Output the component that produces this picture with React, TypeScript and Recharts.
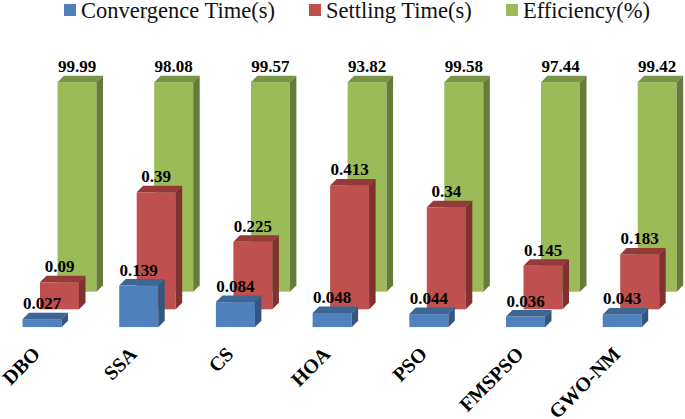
import React from 'react';
import { BarChart, Bar, XAxis, YAxis, Legend } from 'recharts';

const categories = ['DBO', 'SSA', 'CS', 'HOA', 'PSO', 'FMSPSO', 'GWO-NM'];
const convergenceTime = [0.027, 0.139, 0.084, 0.048, 0.044, 0.036, 0.043];
const settlingTime = [0.09, 0.39, 0.225, 0.413, 0.34, 0.145, 0.183];
const efficiency = [99.99, 98.08, 99.57, 93.82, 99.58, 97.44, 99.42];

const seriesNames = ['Convergence Time(s)', 'Settling Time(s)', 'Efficiency(%)'];
const seriesKeys = ['convergence', 'settling', 'efficiency'];

const rows = categories.map((name, i) => ({
  name,
  convergence: convergenceTime[i],
  settling: settlingTime[i],
  efficiency: efficiency[i],
}));

const SERIF = '"Liberation Serif", "Times New Roman", serif';
const styles = [
  { front: '#4F81BD', top: '#3D6695', side: '#34577F', dx: -6.5, dy: 0 },
  { front: '#C0504D', top: '#953A38', side: '#7F3230', dx: 11, dy: -18 },
  { front: '#9BBB59', top: '#7A9447', side: '#657B3A', dx: 28.5, dy: -35.6 },
];
const CAP_PX = 209.5;
const DEPTH = 6.5;

function makeShape(seriesIndex: number) {
  const st = styles[seriesIndex];
  const key = seriesKeys[seriesIndex];
  return function Shape3D(props: any) {
    const { x, y, width, height, payload } = props;
    const base = y + height + st.dy;
    const top = Math.max(y + st.dy, base - CAP_PX);
    const l = x + st.dx;
    const r = l + width;
    return (
      <g>
        <rect x={l} y={top} width={width} height={base - top} fill={st.front} />
        <polygon
          points={`${l},${top} ${l + DEPTH},${top - DEPTH} ${r + DEPTH},${top - DEPTH} ${r},${top}`}
          fill={st.top}
        />
        <polygon
          points={`${r},${top} ${r + DEPTH},${top - DEPTH} ${r + DEPTH},${base - DEPTH} ${r},${base}`}
          fill={st.side}
        />
        <text
          x={l + width / 2}
          y={top - 10}
          textAnchor="middle"
          fontFamily={SERIF}
          fontWeight={700}
          fontSize={17}
          fill="#000"
        >
          {payload[key]}
        </text>
      </g>
    );
  };
}

function AngledTick(props: any) {
  const { x, y, payload } = props;
  const px = x - 7;
  const py = y + 6;
  return (
    <text
      x={px}
      y={py}
      textAnchor="end"
      transform={`rotate(-45 ${px} ${py})`}
      fontFamily={SERIF}
      fontWeight={700}
      fontSize={20}
      fill="#000"
    >
      {payload.value}
    </text>
  );
}

function LegendContent() {
  return (
    <div style={{ position: 'absolute', left: 0, top: 0, height: 0, width: 685 }}>
      {seriesNames.map((n, i) => (
        <div key={n} style={{ position: 'absolute', left: [64, 309, 506][i], top: -27.3 }}>
          <span
            style={{
              position: 'absolute',
              left: 0,
              top: 4,
              width: 12,
              height: 11.5,
              background: styles[i].front,
            }}
          />
          <span
            style={{
              position: 'absolute',
              left: 17,
              top: 0,
              fontFamily: SERIF,
              fontSize: 22.5,
              lineHeight: '22px',
              whiteSpace: 'nowrap',
              color: '#111',
            }}
          >
            {n}
          </span>
        </div>
      ))}
    </div>
  );
}

export default function App() {
  return (
    <div style={{ position: 'absolute', left: 0, top: 0, width: 685, height: 419, background: '#fff' }}>
      <BarChart
        width={685}
        height={419}
        data={rows}
        margin={{ top: 27.3, right: 8.1, left: 0, bottom: 31.7 }}
        barSize={39}
        barGap={-39}
      >
        <Legend verticalAlign="top" content={<LegendContent />} />
        <XAxis
          dataKey="name"
          height={60}
          axisLine={false}
          tickLine={false}
          interval={0}
          tick={<AngledTick />}
          tickMargin={16}
        />
        <YAxis hide width={0} domain={[0, 1]} allowDataOverflow />
        <Bar dataKey="efficiency" shape={makeShape(2)} isAnimationActive={false} />
        <Bar dataKey="settling" shape={makeShape(1)} isAnimationActive={false} />
        <Bar dataKey="convergence" shape={makeShape(0)} isAnimationActive={false} />
      </BarChart>
    </div>
  );
}
